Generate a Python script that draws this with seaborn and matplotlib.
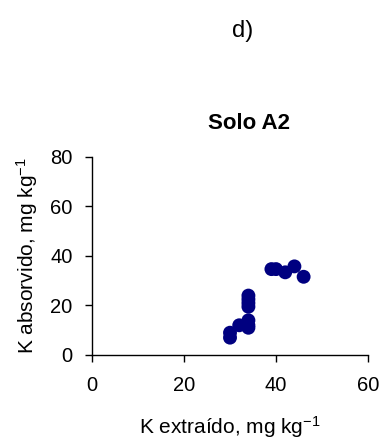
import pandas as pd
import seaborn as sns
import matplotlib.pyplot as plt

# Data (Solo A2)
k_extraido = [30, 30, 32, 34, 34, 34, 34, 34, 34, 34, 39, 40, 42, 44, 46]
k_absorvido = [7, 9, 12, 11, 12, 14, 19.5, 21, 22.5, 24, 34.7, 34.7, 33.4, 35.8, 31.6]

X_TICKS = [0, 20, 40, 60]
Y_TICKS = [0, 20, 40, 60, 80]

sns.set_style("ticks")
plt.rcParams["font.family"] = ["Liberation Sans", "DejaVu Sans"]
plt.rcParams["mathtext.default"] = "regular"
for key in ["text.color", "axes.labelcolor", "xtick.color", "ytick.color", "axes.edgecolor"]:
    plt.rcParams[key] = "black"

df = pd.DataFrame({"x": k_extraido, "y": k_absorvido})

fig = plt.figure(figsize=(3.84, 4.44), dpi=100)
ax = fig.add_axes([0.2396, 0.2005, 0.7188, 0.4459])
sns.scatterplot(data=df, x="x", y="y", ax=ax, color="#000080",
                s=100, edgecolor="none", clip_on=False, zorder=3)

ax.set_xlim(0, 60)
ax.set_ylim(0, 80)
ax.set_xticks(X_TICKS)
ax.set_yticks(Y_TICKS)
ax.tick_params(labelsize=14.5, length=5, width=1, direction="out")
ax.tick_params(axis="x", pad=10)
ax.tick_params(axis="y", pad=9)
ax.spines["top"].set_visible(False)
ax.spines["right"].set_visible(False)
for s in ["left", "bottom"]:
    ax.spines[s].set_linewidth(1)

ax.set_xlabel("K extraído, mg kg$^{-1}$", fontsize=15, labelpad=14)
ax.set_ylabel("K absorvido, mg kg$^{-1}$", fontsize=15, labelpad=7)
ax.set_title("Solo A2", fontsize=16, fontweight="bold", pad=20, x=0.57)
fig.text(0.632, 0.931, "d)", fontsize=17, ha="center", va="center")

fig.savefig("out.png", dpi=100)
